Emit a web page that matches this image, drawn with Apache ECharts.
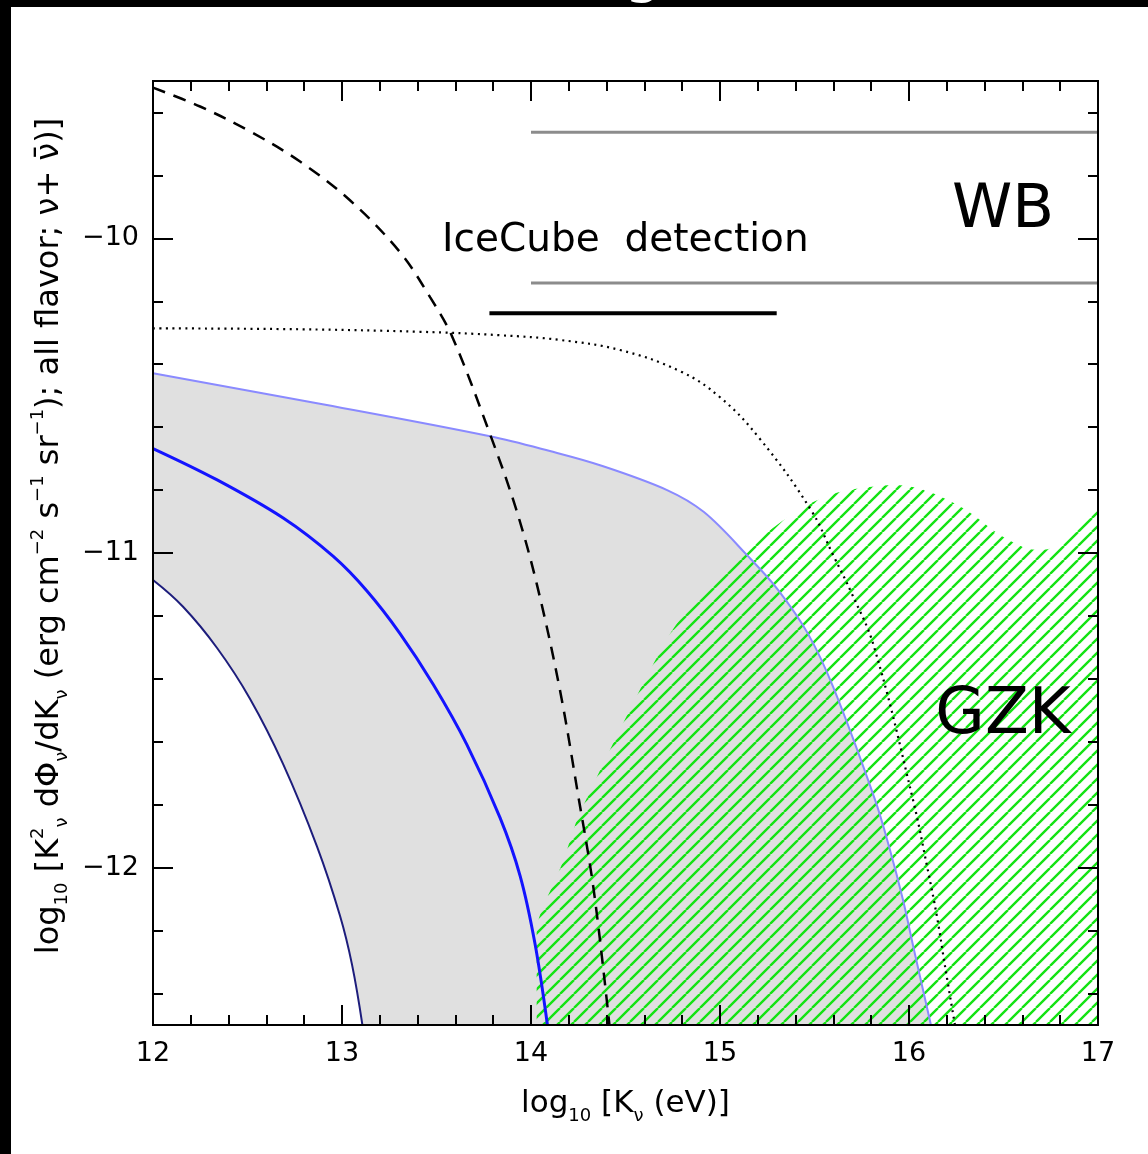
<!DOCTYPE html>
<html>
<head>
<meta charset="utf-8">
<script src="https://cdn.jsdelivr.net/npm/echarts@6/dist/echarts.min.js"></script>
<style>
  html, body { margin: 0; padding: 0; background: #fff; }
  #chart { width: 1148px; height: 1154px; }
</style>
</head>
<body>
<div id="chart"></div>
<script>
// Axis ranges and tick values
const xRange = [12, 17];
const yRange = [-12.5, -9.5];
const xMajorTicks = [12, 13, 14, 15, 16, 17];
const yMajorTicks = [-12, -11, -10];

// Model band: upper edge, central model, lower edge  [log10 K, log10 flux]
const bandUpper = [
  [12.0, -10.429], [12.868, -10.524], [13.783, -10.629], [14.1, -10.676],
  [14.365, -10.721], [14.72, -10.8], [14.915, -10.87], [15.148, -11.01],
  [15.307, -11.117], [15.466, -11.257], [15.598, -11.425], [15.82, -11.784],
  [15.899, -11.943], [15.968, -12.102], [16.026, -12.26], [16.116, -12.5]
];
const bandCentral = [
  [12.0, -10.668], [12.337, -10.767], [12.689, -10.889], [12.954, -11.011],
  [13.131, -11.12], [13.307, -11.256], [13.483, -11.418], [13.66, -11.608],
  [13.836, -11.841], [13.942, -12.025], [14.021, -12.241], [14.087, -12.5]
];
const bandLower = [
  [12.0, -11.086], [12.159, -11.171], [12.339, -11.302], [12.513, -11.463],
  [12.688, -11.67], [12.868, -11.933], [12.989, -12.152], [13.053, -12.308],
  [13.108, -12.5]
];

// Other model curves
const dashedCurve = [
  [12.0, -9.521], [12.249, -9.581], [12.513, -9.66], [12.778, -9.756],
  [13.042, -9.879], [13.307, -10.044], [13.466, -10.187], [13.582, -10.311],
  [13.783, -10.622], [13.921, -10.86], [14.032, -11.102], [14.153, -11.435],
  [14.249, -11.768], [14.333, -12.076], [14.415, -12.5]
];
const dottedCurve = [
  [12.0, -10.286], [12.778, -10.289], [13.413, -10.297], [13.836, -10.308],
  [14.153, -10.323], [14.471, -10.355], [14.788, -10.422], [15.0, -10.505],
  [15.212, -10.638], [15.481, -10.863], [15.598, -11.006], [15.698, -11.13],
  [15.815, -11.298], [16.021, -11.784], [16.095, -11.994], [16.148, -12.156],
  [16.19, -12.311], [16.243, -12.5]
];

// GZK region (upper boundary; filled down to the bottom of the frame)
const gzkUpper = [
  [14.03, -12.5], [14.03, -12.2], [14.06, -12.13], [14.12, -12.05],
  [14.17, -11.98], [14.26, -11.825], [14.712, -11.281], [14.917, -11.112],
  [15.073, -11.017], [15.414, -10.863], [15.561, -10.821], [15.677, -10.8],
  [15.931, -10.784], [16.106, -10.805], [16.302, -10.863], [16.497, -10.948],
  [16.672, -10.99], [16.75, -10.985], [17.0, -10.842]
];

// Waxman-Bahcall bound lines and IceCube detection level
const wbUpper = [[14.0, -9.663], [17.0, -9.663]];
const wbLower = [[14.0, -10.142], [17.0, -10.142]];
const iceCube = [[13.78, -10.238], [15.3, -10.238]];

function stepValues(lo, hi, step) {
  const out = [];
  for (let v = lo; v <= hi + 1e-9; v += step) out.push(+v.toFixed(4));
  return out;
}
const xMinorTicks = stepValues(12, 17, 0.2);
const yMinorTicks = stepValues(-12.4, -9.6, 0.2);

function hatchPattern() {
  const s = 14;
  const c = document.createElement('canvas');
  c.width = s; c.height = s;
  const g = c.getContext('2d');
  g.strokeStyle = '#14e314';
  g.lineWidth = 2.4;
  g.beginPath();
  [-1, 0, 1].forEach(function (k) {
    g.moveTo(k * s, s);
    g.lineTo(k * s + s, 0);
  });
  g.stroke();
  return c;
}

const TICK_FONT = 'DejaVu Sans';
const NAME_FONT = 'DejaVu Sans';
const frameLine = { show: true, onZero: false, lineStyle: { color: '#000', width: 2 } };

function makeAxis(kind, pos, ticks, len, labels, extra) {
  const range = kind === 'x' ? xRange : yRange;
  return Object.assign({
    type: 'value',
    position: pos,
    min: range[0],
    max: range[1],
    z: 10,
    axisLine: frameLine,
    splitLine: { show: false },
    axisTick: {
      show: true, inside: true, length: len,
      customValues: ticks,
      lineStyle: { color: '#000', width: 2 }
    },
    axisLabel: labels ? Object.assign({
      show: true, customValues: ticks, color: '#000',
      fontFamily: TICK_FONT, fontSize: 27
    }, labels) : { show: false }
  }, extra || {});
}

const subStyle = { fontFamily: NAME_FONT, fontSize: 18, lineHeight: 22, verticalAlign: 'bottom', color: '#000' };
const supStyle = { fontFamily: NAME_FONT, fontSize: 18, lineHeight: 22, verticalAlign: 'top', color: '#000' };

const chart = echarts.init(document.getElementById('chart'), null, { renderer: 'canvas' });

chart.setOption({
  backgroundColor: '#fff',
  animation: false,
  grid: { left: 153, top: 81, right: 50, bottom: 129, containLabel: false },
  xAxis: [
    makeAxis('x', 'bottom', xMajorTicks, 20, { margin: 15, formatter: function (v) { return String(v); } }, {
      name: 'log{sub|10} [K{sub|ν} (eV)]',
      nameLocation: 'middle',
      nameGap: 58,
      nameTextStyle: { fontFamily: NAME_FONT, fontSize: 31, lineHeight: 42, color: '#000', rich: { sub: subStyle } }
    }),
    makeAxis('x', 'bottom', xMinorTicks, 10, null),
    makeAxis('x', 'top', xMajorTicks, 20, null),
    makeAxis('x', 'top', xMinorTicks, 10, null)
  ],
  yAxis: [
    makeAxis('y', 'left', yMajorTicks, 20, {
      margin: 14,
      formatter: function (v) { return '\u2212' + Math.abs(v); }
    }, {
      name: 'log{sub|10} [K{sup|2}{sub|ν} dΦ{sub|ν}/dK{sub|ν} (erg cm{sup|\u22122} s{sup|\u22121} sr{sup|\u22121}); all flavor; ν+ ν\u0304)]',
      nameLocation: 'middle',
      nameGap: 75,
      nameTextStyle: {
        fontFamily: NAME_FONT, fontSize: 32, lineHeight: 42, color: '#000',
        padding: [0, 0, 0, 34],
        rich: { sub: subStyle, sup: supStyle }
      }
    }),
    makeAxis('y', 'left', yMinorTicks, 10, null),
    makeAxis('y', 'right', yMajorTicks, 20, null),
    makeAxis('y', 'right', yMinorTicks, 10, null)
  ],
  series: [
    // grey model band: filled under the upper edge, cleared under the lower edge
    {
      type: 'line', data: bandUpper, smooth: 0.35, showSymbol: false, silent: true, z: 1,
      lineStyle: { width: 0, opacity: 0 },
      areaStyle: { color: '#e0e0e0', opacity: 1, origin: 'start' }
    },
    {
      type: 'line', data: bandLower, smooth: 0.4, showSymbol: false, silent: true, z: 1,
      lineStyle: { width: 0, opacity: 0 },
      areaStyle: { color: '#ffffff', opacity: 1, origin: 'start' }
    },
    // hatched GZK region
    {
      type: 'line', data: gzkUpper, smooth: 0.3, showSymbol: false, silent: true, z: 1,
      lineStyle: { width: 0, opacity: 0 },
      areaStyle: { color: { image: hatchPattern(), repeat: 'repeat' }, opacity: 1, origin: 'start' }
    },
    // curves
    {
      type: 'line', data: bandUpper, smooth: 0.35, showSymbol: false, silent: true, z: 3,
      lineStyle: { color: '#8a8aff', width: 2 }
    },
    {
      type: 'line', data: bandCentral, smooth: 0.35, showSymbol: false, silent: true, z: 3,
      lineStyle: { color: '#1414ff', width: 3 }
    },
    {
      type: 'line', data: bandLower, smooth: 0.4, showSymbol: false, silent: true, z: 3,
      lineStyle: { color: '#1d1d7c', width: 2 }
    },
    {
      type: 'line', data: dashedCurve, smooth: 0.35, showSymbol: false, silent: true, z: 3,
      lineStyle: { color: '#000', width: 2.5, type: [13, 9] }
    },
    {
      type: 'line', data: dottedCurve, smooth: 0.4, showSymbol: false, silent: true, z: 3,
      lineStyle: { color: '#000', width: 2.2, type: [2, 4.5] }
    },
    {
      type: 'line', data: wbUpper, showSymbol: false, silent: true, z: 3,
      lineStyle: { color: '#8c8c8c', width: 3 }
    },
    {
      type: 'line', data: wbLower, showSymbol: false, silent: true, z: 3,
      lineStyle: { color: '#8c8c8c', width: 3 }
    },
    {
      type: 'line', data: iceCube, showSymbol: false, silent: true, z: 3,
      lineStyle: { color: '#000', width: 4 }
    }
  ],
  graphic: [
    { type: 'rect', left: 0, top: 0, shape: { width: 11, height: 1154 }, style: { fill: '#000' }, z: 100 },
    { type: 'rect', left: 0, top: 0, shape: { width: 1148, height: 7 }, style: { fill: '#000' }, z: 100 },
    { type: 'text', x: 643, y: 4, z: 101, style: { text: 'g', fill: '#fff', font: '60px "DejaVu Sans"', align: 'center', verticalAlign: 'bottom' } },
    { type: 'text', x: 442, y: 241, z: 20, style: { text: 'IceCube  detection', fill: '#000', font: '39px "DejaVu Sans"', align: 'left', verticalAlign: 'middle' } },
    { type: 'text', x: 1003, y: 211, z: 20, style: { text: 'WB', fill: '#000', font: '61px "DejaVu Sans"', align: 'center', verticalAlign: 'middle' } },
    { type: 'text', x: 1003, y: 716, z: 20, style: { text: 'GZK', fill: '#000', font: '64px "DejaVu Sans"', align: 'center', verticalAlign: 'middle' } }
  ]
});
</script>
</body>
</html>
